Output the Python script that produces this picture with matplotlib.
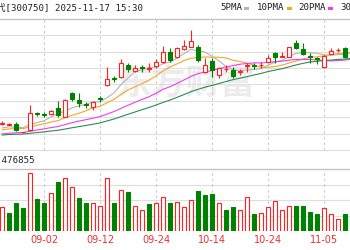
import matplotlib
matplotlib.use('Agg')
import matplotlib.pyplot as plt
import numpy as np
from matplotlib.patches import Rectangle
from matplotlib import transforms

# ---------------- data ----------------
title = '宁德时代[300750] 2025-11-17 15:30'
vol_label = '量:476855'
ma_labels = ['5PMA', '10PMA', '20PMA', '30PMA']
ma_windows = [5, 10, 20, 30]
tick_dates = ['09-02', '09-12', '09-24', '10-14', '10-24', '11-05']

dates = ['08-25', '08-26', '08-27', '08-28', '08-29', '09-01', '09-02', '09-03', '09-04', '09-05',
         '09-08', '09-09', '09-10', '09-11', '09-12', '09-15', '09-16', '09-17', '09-18', '09-19',
         '09-22', '09-23', '09-24', '09-25', '09-26', '09-29', '09-30', '10-09', '10-10', '10-13',
         '10-14', '10-15', '10-16', '10-17', '10-20', '10-21', '10-22', '10-23', '10-24', '10-27',
         '10-28', '10-29', '10-30', '10-31', '11-03', '11-04', '11-05', '11-06', '11-07', '11-10',
         '11-11']

opens = [279, 277.8, 279, 266.3, 270, 296, 294.3, 294.5, 302.6, 290, 325, 315, 309.3, 305, 317.3,
         337.5, 348.3, 350, 367.5, 359, 364.5, 361.8, 366.5, 371.6, 387.5, 380, 391, 395, 395, 356.6,
         374, 352.5, 361.2, 360, 357, 366, 367.5, 367, 372.5, 386, 379.7, 380, 400, 391.5, 380.6,
         377.3, 365, 384, 389.6, 392.6, 390]
highs = [282.8, 279.8, 281.3, 267.3, 307.5, 296.3, 297.5, 300, 313.5, 316.5, 327.5, 325, 312.5, 313.5,
         321, 364, 351, 376, 371, 367.5, 367.5, 370, 376, 396.5, 392.6, 395, 405, 420, 397.5, 377.6,
         377.6, 365, 367.5, 365, 361.5, 370, 371, 371.6, 382.5, 387.5, 387.5, 395, 405, 401, 385,
         380, 382.5, 392.6, 392.6, 395, 399]
lows = [277.5, 276.8, 268.5, 265.5, 267.8, 290.3, 289, 292.5, 290, 288.8, 313.5, 305, 303.5, 300,
        311.6, 336.5, 342.5, 348, 357.5, 356.6, 357.5, 356.6, 362.6, 370, 372.5, 378.5, 390, 394,
        372.5, 355, 350, 347.6, 357.5, 347.6, 352.5, 356.6, 361.5, 362.6, 370, 370, 379, 379, 391,
        382.5, 370, 368.6, 363.5, 383.6, 386.6, 377.6, 388.5]
closes = [280.5, 278.7, 270, 266.7, 296, 293.6, 292.8, 298.5, 292.5, 315, 316.5, 310, 307.8, 311.6,
          316.1, 346.5, 345.8, 370, 361, 362.6, 363, 362.4, 372.5, 386.6, 375, 392.6, 396, 404, 375,
          367.5, 360, 362.3, 361.8, 351.5, 357.8, 366.8, 366, 367.8, 378.6, 379.2, 380.3, 394, 392.6,
          383.6, 379.5, 375.8, 381.5, 389, 390.3, 379, 396]
# closes before the first visible session (feed the moving averages)
prior_closes = [256.5, 259.5, 258, 261, 262.5, 259.5, 258, 261, 259.5, 259.5,
                256.5, 255, 258, 259.5, 256.5, 258, 261, 258, 259.5, 258,
                262.5, 265.5, 267, 268.5, 271.5, 270, 273, 270, 271.5]
# volume, 10k lots
volumes = [42.7, 31.9, 50.9, 41.4, 103.9, 57.1, 49.9, 67.9, 88.2, 95.9, 79.7, 58.9, 49.9, 50.9, 45,
           95.9, 50.9, 73.8, 70.2, 45.5, 37.8, 48.1, 50.9, 61.7, 49.9, 52.2, 43.7, 55.8, 72, 64.3,
           67.1, 49.9, 37.8, 42.7, 37.8, 60.7, 30.1, 31.9, 42.7, 54, 37.8, 45.5, 45.5, 45.5, 34.2,
           31.1, 40.9, 31.1, 21.6, 31.1, 25.2]

# ---------------- style ----------------
RED = '#ff2020'
GREEN = '#008200'
MA_COLORS = ['#b4b4b4', '#f5a623', '#f03cf0', '#2f8a55']
GRID = '#dedede'
BORDER = '#c4c4c4'
DASH = '#cfcfcf'
DATE_COLOR = '#ee3030'
W = 350.0
H = 250.0

fig = plt.figure(figsize=(3.5, 2.5), dpi=100)
fig.patch.set_facecolor('white')

ax = fig.add_axes([0, 1 - 150 / H, 1, (150 - 19) / H])
axv = fig.add_axes([0, 1 - 231 / H, 1, (231 - 169) / H])

n = len(closes)
x = np.arange(n)
xmin, xmax = -2 / 7, 348 / 7
for a in (ax, axv):
    a.set_xlim(xmin, xmax)
    a.set_xticks([])
    a.set_yticks([])
    for s in ('left', 'right'):
        a.spines[s].set_visible(False)
    a.spines['top'].set_color(BORDER)
    a.spines['top'].set_linewidth(1.0)

ymin, ymax = 240, 436.5
ax.set_ylim(ymin, ymax)
ax.spines['bottom'].set_color(GRID)
ax.spines['bottom'].set_linewidth(0.8)
for g in np.linspace(ymin, ymax, 9)[1:-1]:
    ax.axhline(g, color=GRID, lw=0.8, zorder=0.5)

vmax = 111.6
axv.set_ylim(0, vmax)
axv.spines['bottom'].set_visible(False)
for g in np.linspace(0, vmax, 5)[1:-1]:
    axv.axhline(g, color=GRID, lw=0.8, zorder=0.5)

tick_idx = [dates.index(d) for d in tick_dates]
for a in (ax, axv):
    for t in tick_idx:
        a.axvline(t, color=DASH, lw=0.8, ls=(0, (2.5, 2.5)), zorder=0.6)

# watermark
ax.text(186 / W, (150 - 83) / 131, '东方财富', transform=ax.transAxes, ha='center', va='center',
        fontsize=25, color='#ececec', family=['Noto Sans CJK SC'], fontweight='bold', zorder=0.4)

# moving averages
allc = np.array(prior_closes + closes, dtype=float)
for win, col in zip(ma_windows, MA_COLORS):
    ma = np.convolve(allc, np.ones(win) / win, mode='valid')
    ma = ma[-n:]
    ax.plot(x, ma, color=col, lw=0.8, zorder=2, solid_capstyle='round')

# candles
bw = 0.62
for i in range(n):
    o, h, l, c = opens[i], highs[i], lows[i], closes[i]
    if c >= o:
        lo, hi = o, c
        if hi - lo < 0.4:
            hi = lo + 0.4
        ax.vlines(i, hi, h, color=RED, lw=0.8, zorder=3)
        ax.vlines(i, l, lo, color=RED, lw=0.8, zorder=3)
        ax.add_patch(Rectangle((i - bw / 2, lo), bw, hi - lo, facecolor='white',
                               edgecolor=RED, lw=0.8, zorder=4))
    else:
        ax.vlines(i, l, h, color=GREEN, lw=0.8, zorder=3)
        ax.add_patch(Rectangle((i - bw / 2, c), bw, o - c, facecolor=GREEN,
                               edgecolor=GREEN, lw=0.8, zorder=4))

# volume bars (colour by change against previous close)
prev = [prior_closes[-1]] + closes[:-1]
vw = 0.64
for i in range(n):
    if closes[i] >= prev[i]:
        axv.bar(i, volumes[i], width=vw, facecolor='white', edgecolor=RED, lw=0.8, zorder=3)
    else:
        axv.bar(i, volumes[i], width=vw, facecolor=GREEN, edgecolor=GREEN, lw=0.8, zorder=3)

# date labels
tr = transforms.blended_transform_factory(axv.transData, fig.transFigure)
for t, d in zip(tick_idx, tick_dates):
    fig.text(t, 1 - 240 / H, d, transform=tr, ha='center', va='center', fontsize=7,
             color=DATE_COLOR, family='DejaVu Sans')

mono = ['DejaVu Sans Mono', 'Noto Sans CJK SC']
fig.text(143 / W, 1 - 8 / H, title, ha='right', va='center', fontsize=6.6, color='#222222',
         family=mono)
fig.text(35 / W, 1 - 160 / H, vol_label, ha='right', va='center', fontsize=6.6, color='#222222',
         family=mono)

# MA legend
leg_x = [220, 257, 298, 340]
for lab, col, lx in zip(ma_labels, MA_COLORS, leg_x):
    t = fig.text(lx / W, 1 - 8 / H, lab, ha='left', va='center', fontsize=6.6,
                 color='#222222', family=mono)
    dx = (len(lab) * 5.55 + 2) / W
    fig.add_artist(Rectangle((lx / W + dx, 1 - 9.5 / H), 5 / W, 2.5 / H,
                             transform=fig.transFigure, facecolor=col, edgecolor='none'))

fig.savefig('out.png', dpi=100, facecolor='white')
